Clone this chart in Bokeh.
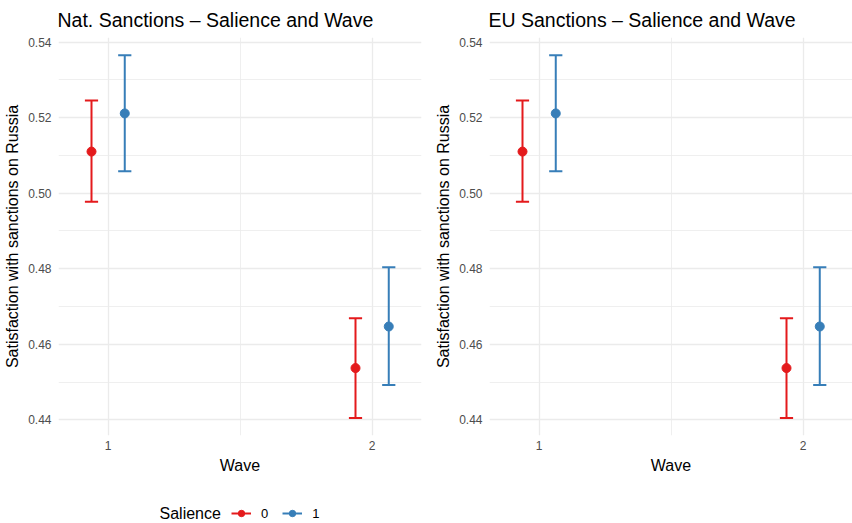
from bokeh.plotting import figure
from bokeh.models import (ColumnDataSource, FixedTicker, PrintfTickFormatter, Range1d,
                          Legend, LegendItem)
from bokeh.core.properties import value
from bokeh.layouts import row, column
from bokeh.embed import file_html
from bokeh.resources import INLINE

# ---------------- data ----------------
waves = [1, 1, 2, 2]
salience = ["0", "1", "0", "1"]
nat_mean = [0.5110, 0.5211, 0.4537, 0.4647]
nat_lower = [0.4977, 0.5058, 0.4405, 0.4492]
nat_upper = [0.5245, 0.5365, 0.4669, 0.4804]
eu_mean = [0.5110, 0.5211, 0.4537, 0.4647]
eu_lower = [0.4977, 0.5058, 0.4405, 0.4492]
eu_upper = [0.5245, 0.5365, 0.4669, 0.4804]
groups = ["0", "1"]
group_colors = {"0": "#E41A1C", "1": "#377EB8"}
dodge = {"0": -0.063, "1": 0.063}
cap_half = 0.025
y_ticks = [0.44, 0.46, 0.48, 0.50, 0.52, 0.54]
y_minor = [0.43, 0.45, 0.47, 0.49, 0.51, 0.53, 0.55]
x_ticks = [1, 2]
x_minor = [1.5]
legend_title = "Salience"

FONT = "Liberation Sans"
GRID = "#EBEBEB"
PANEL_H = 480


def make_panel(title, mean, lower, upper, width, border_left, border_right):
    p = figure(width=width, height=PANEL_H,
               x_range=Range1d(0.812, 2.187), y_range=Range1d(0.43585, 0.5412),
               output_backend="svg", toolbar_location=None,
               min_border_left=border_left, min_border_right=border_right,
               min_border_top=36, min_border_bottom=45)
    p.outline_line_color = None
    p.background_fill_color = "white"
    p.border_fill_color = "white"

    p.title.text = title
    p.title.text_font = FONT
    p.title.text_font_size = "19.5px"
    p.title.text_font_style = "normal"
    p.title.text_color = "black"
    p.title.offset = -1
    p.title.standoff = 13

    for ax in (p.xaxis[0], p.yaxis[0]):
        ax.axis_line_color = None
        ax.major_tick_line_color = None
        ax.minor_tick_line_color = None
        ax.major_tick_out = 0
        ax.major_tick_in = 0
        ax.minor_tick_out = 0
        ax.minor_tick_in = 0
        ax.major_label_text_font = FONT
        ax.major_label_text_font_size = "12px"
        ax.major_label_text_color = "#4D4D4D"
        ax.axis_label_text_font = FONT
        ax.axis_label_text_font_size = "16px"
        ax.axis_label_text_font_style = "normal"
        ax.axis_label_text_color = "black"
    p.xaxis.ticker = FixedTicker(ticks=x_ticks, minor_ticks=x_minor)
    p.yaxis.ticker = FixedTicker(ticks=y_ticks, minor_ticks=y_minor)
    p.yaxis.formatter = PrintfTickFormatter(format="%.2f")
    p.xaxis.axis_label = "Wave"
    p.yaxis.axis_label = "Satisfaction with sanctions on Russia"
    p.yaxis.major_label_standoff = 7
    p.yaxis.axis_label_standoff = 4
    p.xaxis.major_label_standoff = 5
    p.xaxis.axis_label_standoff = 4

    for g in (p.xgrid[0], p.ygrid[0]):
        g.grid_line_color = GRID
        g.grid_line_width = 1.3
        g.minor_grid_line_color = GRID
        g.minor_grid_line_width = 0.8

    for grp in groups:
        idx = [i for i, s in enumerate(salience) if s == grp]
        xs = [waves[i] + dodge[grp] for i in idx]
        src = ColumnDataSource(dict(
            x=xs,
            x0=[x - cap_half for x in xs],
            x1=[x + cap_half for x in xs],
            mean=[mean[i] for i in idx],
            lower=[lower[i] for i in idx],
            upper=[upper[i] for i in idx],
        ))
        col = group_colors[grp]
        p.segment(x0="x", y0="lower", x1="x", y1="upper", source=src,
                  line_color=col, line_width=2)
        p.segment(x0="x0", y0="lower", x1="x1", y1="lower", source=src,
                  line_color=col, line_width=2)
        p.segment(x0="x0", y0="upper", x1="x1", y1="upper", source=src,
                  line_color=col, line_width=2)
        p.scatter(x="x", y="mean", source=src, size=9, fill_color=col,
                  line_color=col, marker="circle")
    return p


p1 = make_panel("Nat. Sanctions \u2013 Salience and Wave", nat_mean, nat_lower, nat_upper,
                426, 58, 5)
p2 = make_panel("EU Sanctions \u2013 Salience and Wave", eu_mean, eu_lower, eu_upper,
                426, 63, 0)

# ---------------- legend strip ----------------
LEG_W, LEG_H = 852, 43
lf = figure(width=LEG_W, height=LEG_H, x_range=Range1d(0, LEG_W), y_range=Range1d(0, LEG_H),
            output_backend="svg", toolbar_location=None,
            min_border_left=0, min_border_right=0, min_border_top=0, min_border_bottom=0)
lf.axis.visible = False
lf.grid.visible = False
lf.outline_line_color = None
lf.border_fill_color = "white"
lf.text(x=[159], y=[10], text=[legend_title], text_font=value(FONT),
        text_font_size="16px", text_color="black", text_baseline="middle", text_align="left")
items = []
nan = float("nan")
for grp in groups:
    col = group_colors[grp]
    dummy = ColumnDataSource(dict(x=[nan], y=[nan]))
    seg = lf.segment(x0="x", y0="y", x1="x", y1="y", source=dummy, line_color=col, line_width=2)
    sc = lf.scatter(x="x", y="y", source=dummy, size=9, fill_color=col, line_color=col,
                    marker="circle")
    items.append(LegendItem(label=grp, renderers=[seg, sc]))
leg = Legend(items=items, orientation="horizontal", location=(231, 2))
leg.label_text_font = FONT
leg.label_text_font_size = "13px"
leg.label_text_color = "black"
leg.glyph_width = 20
leg.glyph_height = 16
leg.label_standoff = 10
leg.label_width = 7
leg.label_height = 16
leg.spacing = 14
leg.padding = 0
leg.margin = 0
leg.border_line_color = None
leg.background_fill_alpha = 0
lf.add_layout(leg, "center")

layout = column(row(p1, p2), lf)
open("out.html", "w").write(file_html(layout, INLINE))
